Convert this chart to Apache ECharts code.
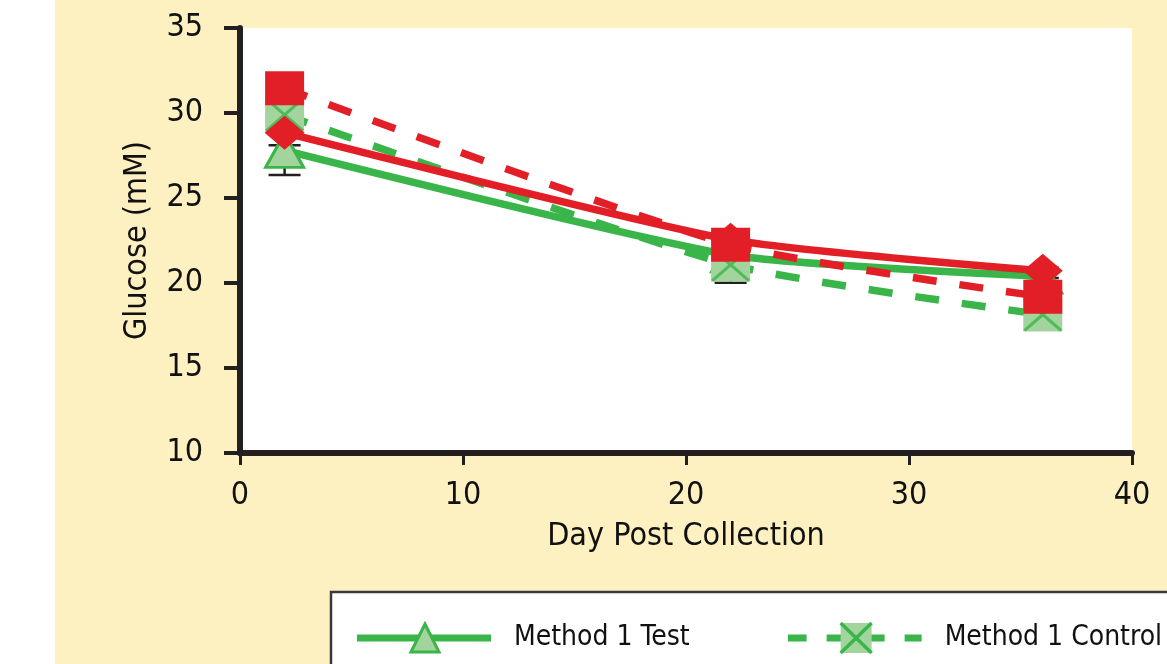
<!DOCTYPE html>
<html>
<head>
<meta charset="utf-8">
<script src="https://cdn.jsdelivr.net/npm/echarts@6/dist/echarts.min.js"></script>
<style>
html,body{margin:0;padding:0;background:#fff;}
#chart{width:1167px;height:664px;background:linear-gradient(to right,#ffffff 0,#ffffff 55px,#fdf0c1 55px,#fdf0c1 100%);}
</style>
</head>
<body>
<div id="chart"></div>
<script>
// ---- data ----
const days = [2, 22, 36];
const m1Test = [27.8, 21.65, 20.4];
const m1Control = [29.9, 21.07, 18.14];
const m2Test = [28.84, 22.55, 20.72];
const m2Control = [31.46, 22.25, 19.19];
const m1TestErrLow = [26.35, 20.02, 20.3];
const m1TestErrHigh = [28.1, 23.0, 20.9];
const xTicks = [0, 10, 20, 30, 40];
const yTicks = [10, 15, 20, 25, 30, 35];
const seriesNames = ['Method 1 Test', 'Method 1 Control', 'Method 2 Test', 'Method 2 Control'];

const GREEN = '#3ab54a', LIGHT = '#a3d49d', RED = '#e21f26', INK = '#231f20';
const FONT = "'Liberation Sans Narrow', 'DejaVu Sans Condensed', 'Liberation Sans', sans-serif";

const pair = arr => days.map((d, i) => [d, arr[i]]);

const svgIcon = s => 'image://data:image/svg+xml;charset=utf-8,' + encodeURIComponent(s);
const testIcon = svgIcon(
  '<svg xmlns="http://www.w3.org/2000/svg" width="152" height="34" viewBox="0 0 152 34">' +
  '<line x1="0" y1="17" x2="134" y2="17" stroke="' + GREEN + '" stroke-width="7"/>' +
  '<polygon points="68,3 54,31 82,31" fill="' + LIGHT + '" stroke="' + GREEN + '" stroke-width="3"/>' +
  '</svg>');
const ctrlIcon = svgIcon(
  '<svg xmlns="http://www.w3.org/2000/svg" width="152" height="34" viewBox="0 0 152 34">' +
  '<line x1="0" y1="17" x2="134" y2="17" stroke="' + GREEN + '" stroke-width="7" stroke-dasharray="19,20"/>' +
  '<rect x="53" y="2" width="31" height="30" fill="' + LIGHT + '"/>' +
  '<line x1="53" y1="2" x2="84" y2="32" stroke="' + GREEN + '" stroke-width="3.5"/>' +
  '<line x1="84" y1="2" x2="53" y2="32" stroke="' + GREEN + '" stroke-width="3.5"/>' +
  '</svg>');

const X_PATH = 'path://M0,6 L6,0 L50,44 L94,0 L100,6 L56,50 L100,94 L94,100 L50,56 L6,100 L0,94 L44,50 Z';

const chart = echarts.init(document.getElementById('chart'));
chart.setOption({
  animation: false,
  backgroundColor: 'transparent',
  textStyle: { fontFamily: FONT },
  grid: { left: 240, right: 35, top: 28, bottom: 211, show: true, backgroundColor: '#ffffff', borderWidth: 0 },
  graphic: [{
    type: 'rect', z: 3, shape: { x: 331, y: 592, width: 900, height: 140 },
    style: { fill: '#ffffff', stroke: '#3a3a3a', lineWidth: 2.5 }
  }],
  legend: {
    left: 357, top: 621, width: 1400, itemGap: 98, padding: 0,
    itemWidth: 152, itemHeight: 34, z: 5,
    textStyle: { fontSize: 28, color: '#111', fontFamily: FONT },
    data: [
      { name: seriesNames[0], icon: testIcon },
      { name: seriesNames[1], icon: ctrlIcon }
    ]
  },
  xAxis: {
    type: 'value', min: xTicks[0], max: xTicks[xTicks.length - 1], interval: 10,
    name: 'Day Post Collection', nameLocation: 'middle', nameGap: 68,
    nameTextStyle: { fontSize: 32, color: '#111', fontFamily: FONT },
    axisLine: { show: true, lineStyle: { color: INK, width: 6 } },
    axisTick: { show: true, length: 12, lineStyle: { color: INK, width: 3 } },
    axisLabel: { fontSize: 32, color: '#111', margin: 27, fontFamily: FONT },
    splitLine: { show: false }
  },
  yAxis: {
    type: 'value', min: yTicks[0], max: yTicks[yTicks.length - 1], interval: 5,
    name: 'Glucose (mM)', nameLocation: 'middle', nameGap: 86, nameRotate: 90,
    nameTextStyle: { fontSize: 32, color: '#111', fontFamily: FONT },
    axisLine: { show: true, lineStyle: { color: INK, width: 6 } },
    axisTick: { show: true, length: 16, lineStyle: { color: INK, width: 4 } },
    axisLabel: { fontSize: 32, color: '#111', margin: 37, fontFamily: FONT },
    splitLine: { show: false }
  },
  series: [
    {
      type: 'custom', name: 'err', z: 1, silent: true,
      data: days.map((d, i) => [d, m1TestErrLow[i], m1TestErrHigh[i]]),
      encode: { x: 0, y: [1, 2] },
      renderItem: (params, api) => {
        const lo = api.coord([api.value(0), api.value(1)]);
        const hi = api.coord([api.value(0), api.value(2)]);
        const hw = 16;
        const st = { stroke: INK, lineWidth: 2.5 };
        return { type: 'group', children: [
          { type: 'line', shape: { x1: lo[0], y1: lo[1], x2: hi[0], y2: hi[1] }, style: st },
          { type: 'line', shape: { x1: lo[0] - hw, y1: lo[1], x2: lo[0] + hw, y2: lo[1] }, style: st },
          { type: 'line', shape: { x1: hi[0] - hw, y1: hi[1], x2: hi[0] + hw, y2: hi[1] }, style: st }
        ]};
      }
    },
    {
      type: 'line', name: seriesNames[0], z: 2, data: pair(m1Test), smooth: 0.2,
      lineStyle: { color: GREEN, width: 7.5 },
      symbol: 'triangle', symbolSize: [38, 34],
      itemStyle: { color: LIGHT, borderColor: GREEN, borderWidth: 3 }
    },
    {
      type: 'line', name: seriesNames[1], z: 3, data: pair(m1Control), smooth: 0.2,
      lineStyle: { color: GREEN, width: 7.5, type: [24, 23] },
      symbol: 'rect', symbolSize: [39, 34],
      itemStyle: { color: LIGHT, borderWidth: 0 }
    },
    {
      type: 'scatter', name: 'Method 1 Control X', z: 4, data: pair(m1Control), silent: true,
      symbol: X_PATH, symbolSize: [39, 34], itemStyle: { color: GREEN }
    },
    {
      type: 'line', name: seriesNames[2], z: 5, data: pair(m2Test), smooth: 0.2,
      lineStyle: { color: RED, width: 7.5 },
      symbol: 'diamond', symbolSize: [40, 34],
      itemStyle: { color: RED, borderWidth: 0 }
    },
    {
      type: 'line', name: seriesNames[3], z: 6, data: pair(m2Control), smooth: 0.2,
      lineStyle: { color: RED, width: 7.5, type: [24, 23] },
      symbol: 'rect', symbolSize: [39, 34],
      itemStyle: { color: RED, borderWidth: 0 }
    }
  ]
});
</script>
</body>
</html>
